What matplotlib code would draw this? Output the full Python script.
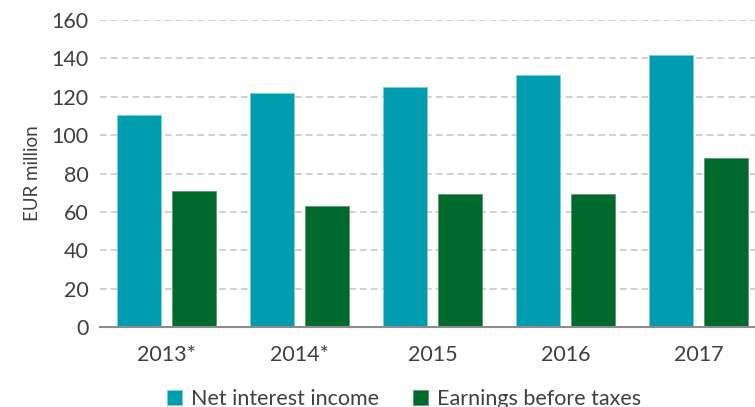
import matplotlib
matplotlib.use("Agg")
import matplotlib.pyplot as plt
import numpy as np

years = ["2013*", "2014*", "2015", "2016", "2017"]
net_interest = [110.5, 122, 125, 131.5, 142]
ebt = [71, 63, 69.5, 69.5, 88]

teal = "#009DB1"
green = "#006A2D"
txt = "#404040"

plt.rcParams["font.family"] = ["Lato", "DejaVu Sans"]

fig = plt.figure(figsize=(7.55, 4.07), dpi=100)
ax = fig.add_axes([100 / 755, 80 / 407, 665 / 755, 307 / 407])

x = np.arange(len(years))
w = 0.33
off = 0.21
ax.bar(x - off, net_interest, w, color=teal, label="Net interest income", zorder=3,
       edgecolor="#7fcdd8", linewidth=0.6)
ax.bar(x + off, ebt, w, color=green, label="Earnings before taxes", zorder=3,
       edgecolor="#5a9a70", linewidth=0.6)

ax.set_xlim(-0.5, 4.5)
ax.set_ylim(0, 160)
ax.set_yticks(range(0, 161, 20))
ax.set_xticks(x)
ax.set_xticklabels(years)
ax.tick_params(axis="both", length=0, colors=txt, labelsize=15.5)
ax.tick_params(axis="x", pad=13)
ax.tick_params(axis="y", pad=8)
ax.yaxis.grid(True, color="#c8c8c8", linestyle=(0, (4, 2.5)), linewidth=1.2, zorder=0)
for s in ["top", "right", "left"]:
    ax.spines[s].set_visible(False)
ax.spines["bottom"].set_color("#8c8c8c")
ax.spines["bottom"].set_linewidth(1.5)
ax.spines["bottom"].set_zorder(4)
ax.set_ylabel("EUR million", color=txt, fontsize=13.5, labelpad=8)

fig.legend(loc="center", bbox_to_anchor=(0.535, 0.02), ncol=2, frameon=False,
           fontsize=15.5, handlelength=0.7, handleheight=0.7, handletextpad=0.4,
           columnspacing=1.6, labelcolor=txt)

fig.savefig("out.png", dpi=100)
